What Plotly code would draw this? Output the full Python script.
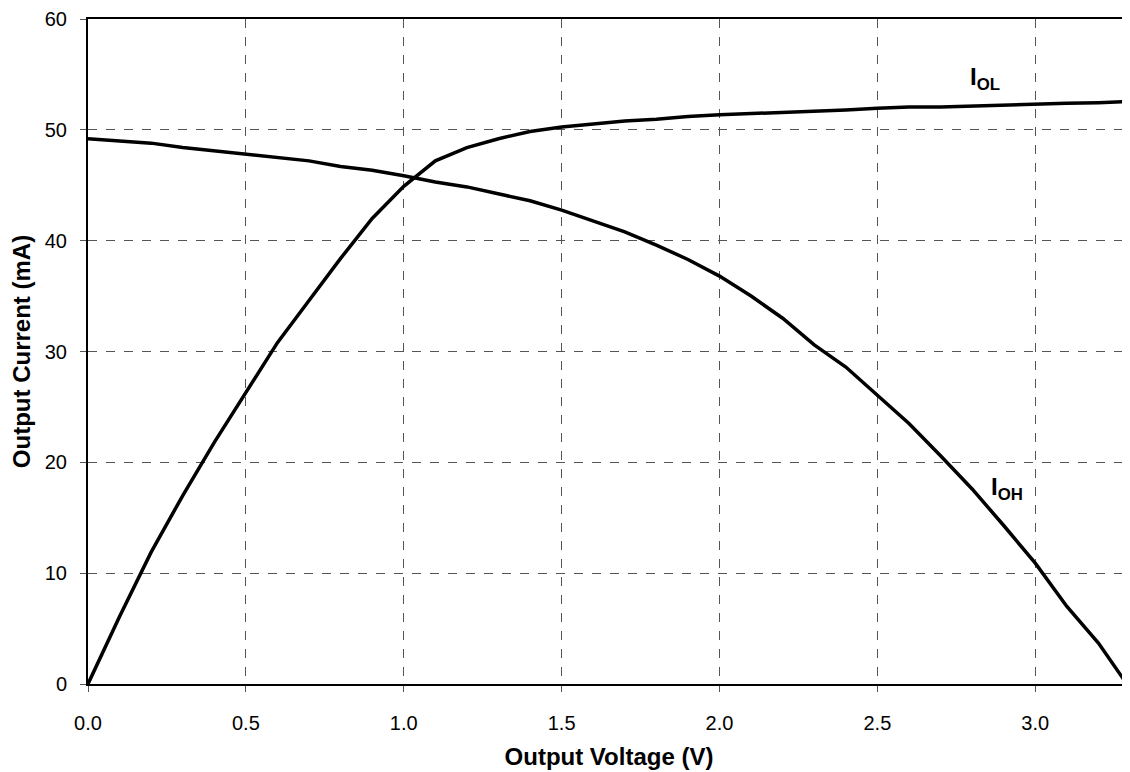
import plotly.graph_objects as go

# output voltage (V) sample points
voltage = [0.0, 0.1, 0.2, 0.3, 0.4, 0.5, 0.6, 0.7, 0.8, 0.9, 1.0, 1.1, 1.2, 1.3, 1.4, 1.5, 1.6,
           1.7, 1.8, 1.9, 2.0, 2.1, 2.2, 2.3, 2.4, 2.5, 2.6, 2.7, 2.8, 2.9, 3.0, 3.1, 3.2, 3.3]

# sink current IOL (mA)
i_ol = [0.0, 6.1, 11.9, 17.0, 21.8, 26.3, 30.8, 34.6, 38.4, 42.0, 44.9, 47.2, 48.4, 49.2, 49.85,
        50.25, 50.5, 50.8, 50.95, 51.2, 51.35, 51.45, 51.55, 51.7, 51.8, 51.95, 52.05, 52.05,
        52.15, 52.25, 52.3, 52.4, 52.45, 52.55]

# source current IOH (mA)
voltage_oh = [0.0, 0.1, 0.2, 0.3, 0.4, 0.5, 0.6, 0.7, 0.8, 0.9, 1.0, 1.1, 1.2, 1.3, 1.4, 1.5, 1.6,
              1.7, 1.8, 1.9, 2.0, 2.1, 2.2, 2.3, 2.4, 2.5, 2.6, 2.7, 2.8, 2.9, 3.0, 3.1, 3.2, 3.29]
i_oh = [49.2, 49.0, 48.8, 48.4, 48.1, 47.8, 47.5, 47.2, 46.7, 46.35, 45.85, 45.3, 44.85, 44.2,
        43.6, 42.75, 41.8, 40.8, 39.6, 38.3, 36.8, 35.0, 33.0, 30.6, 28.6, 26.0, 23.5, 20.6,
        17.6, 14.3, 10.9, 7.0, 3.7, 0.0]

x_ticks = [0.0, 0.5, 1.0, 1.5, 2.0, 2.5, 3.0]
y_ticks = [0, 10, 20, 30, 40, 50, 60]

font_family = 'Liberation Sans, Arial, sans-serif'

fig = go.Figure()
fig.add_trace(go.Scatter(x=voltage, y=i_ol, mode='lines', line=dict(color='black', width=3.5),
                         showlegend=False))
fig.add_trace(go.Scatter(x=voltage_oh, y=i_oh, mode='lines', line=dict(color='black', width=3.5),
                         showlegend=False))

# curve labels
fig.add_annotation(x=2.84, y=54.6, text='<b>I<sub>OL</sub></b>', showarrow=False,
                   font=dict(family=font_family, size=24, color='black'))
fig.add_annotation(x=2.91, y=17.6, text='<b>I<sub>OH</sub></b>', showarrow=False,
                   font=dict(family=font_family, size=24, color='black'))

fig.update_xaxes(range=[0, 3.3], tickvals=x_ticks, tickformat='.1f',
                 showgrid=True, gridcolor='#555555', griddash='dash', gridwidth=1,
                 showline=True, linecolor='black', linewidth=2, mirror=True,
                 ticks='outside', ticklen=6, tickcolor='#555555', tickwidth=1,
                 ticklabelstandoff=14, ticklabeloverflow='allow', zeroline=False,
                 tickfont=dict(family=font_family, size=20, color='black'),
                 title=dict(text='<b>Output Voltage (V)</b>', standoff=15,
                            font=dict(family=font_family, size=24, color='black')))
fig.update_yaxes(range=[0, 60], tickvals=y_ticks,
                 showgrid=True, gridcolor='#555555', griddash='dash', gridwidth=1,
                 showline=True, linecolor='black', linewidth=2, mirror=False,
                 ticks='outside', ticklen=6, tickcolor='#555555', tickwidth=1,
                 ticklabelstandoff=9, ticklabeloverflow='allow', zeroline=False,
                 tickfont=dict(family=font_family, size=20, color='black'),
                 title=dict(text='<b>Output Current (mA)</b>', standoff=17,
                            font=dict(family=font_family, size=24, color='black')))
# page has an 8px body margin, so the figure is sized to fill the rest
fig.update_layout(width=1122, height=764, plot_bgcolor='white', paper_bgcolor='white',
                  margin=dict(l=80, r=0, t=9, b=88))

fig.write_html('out.html')
